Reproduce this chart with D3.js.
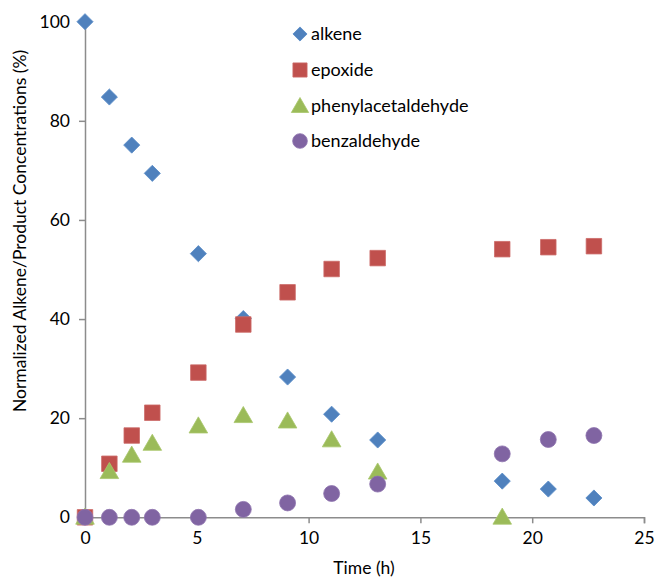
<!DOCTYPE html>
<html><head><meta charset="utf-8">
<script src="https://cdn.jsdelivr.net/npm/d3@7"></script>
<style>body{margin:0;background:#fff}svg{display:block}text{font-family:Lato,"Open Sans",sans-serif;fill:#000}</style>
</head><body><svg id="c" width="655" height="582"></svg>
<script>
const time = [0, 1.09, 2.09, 3.01, 5.07, 7.08, 9.06, 11.03, 13.09, 18.66, 20.72, 22.76];
const alkene = [100, 84.8, 75.1, 69.4, 53.2, 40.1, 28.3, 20.8, 15.6, 7.3, 5.7, 3.9];
const epoxide = [0, 10.8, 16.5, 21.1, 29.2, 38.9, 45.4, 50.1, 52.3, 54.1, 54.5, 54.7];
const phenylacetaldehyde = [0, 9.2, 12.5, 14.9, 18.4, 20.5, 19.4, 15.6, 9.1, 0, null, null];
const benzaldehyde = [0, 0, 0, 0, 0, 1.6, 2.9, 4.8, 6.7, 12.8, 15.7, 16.5];
const xTicks = [0, 5, 10, 15, 20, 25];
const yTicks = [0, 20, 40, 60, 80, 100];
const seriesNames = ["alkene", "epoxide", "phenylacetaldehyde", "benzaldehyde"];
const seriesValues = [alkene, epoxide, phenylacetaldehyde, benzaldehyde];
const colors = ["#4F81BD", "#C0504D", "#9BBB59", "#8064A2"];
const strokes = ["#5A8CC8", "#CB6A67", "#A8C76B", "#8E74AE"];
const symbols = [d3.symbolSquare, d3.symbolSquare, d3.symbolTriangle, d3.symbolCircle];
const rotations = [45, 0, 0, 0];
const sizes = [130, 240, 150, 200];
const legSizes = [100, 200, 130, 170];

const svg = d3.select("#c");
const x = d3.scaleLinear().domain([0, 25]).range([85, 644]);
const y = d3.scaleLinear().domain([0, 100]).range([517.3, 21.7]);
const axisColor = "#8c8c8c";

const xa = svg.append("g").attr("transform", `translate(0,${y(0)})`)
  .call(d3.axisBottom(x).tickValues(xTicks).tickSize(6).tickPadding(8));
const ya = svg.append("g").attr("transform", `translate(${x(0)},0)`)
  .call(d3.axisLeft(y).tickValues(yTicks).tickSize(6).tickPadding(9));
[xa, ya].forEach(a => {
  a.select(".domain").attr("stroke", axisColor).attr("stroke-width", 1.5);
  a.selectAll(".tick line").attr("stroke", axisColor).attr("stroke-width", 1.5);
  a.selectAll(".tick text").attr("font-size", 17.5).attr("fill", "#000").style("font-family", "Lato");
});

seriesValues.forEach((vals, i) => {
  const sym = d3.symbol().type(symbols[i]).size(sizes[i]);
  const pts = time.map((t, j) => ({t, v: vals[j]})).filter(d => d.v !== null);
  svg.append("g").selectAll("path").data(pts).join("path")
    .attr("d", sym)
    .attr("transform", d => {
      const dy = symbols[i] === d3.symbolTriangle ? 1.5 : 0;
      return `translate(${x(d.t)},${y(d.v) + dy}) rotate(${rotations[i]})`;
    })
    .attr("fill", colors[i]).attr("stroke", strokes[i]).attr("stroke-width", 0.8);
});

const legY = [34, 70, 106, 141];
seriesNames.forEach((n, i) => {
  const sym = d3.symbol().type(symbols[i]).size(legSizes[i]);
  const dy = symbols[i] === d3.symbolTriangle ? 1.5 : 0;
  svg.append("path").attr("d", sym).attr("transform", `translate(300,${legY[i] + dy}) rotate(${rotations[i]})`)
    .attr("fill", colors[i]).attr("stroke", strokes[i]).attr("stroke-width", 0.8);
  svg.append("text").attr("x", 311).attr("y", legY[i]).attr("dy", "0.35em")
    .attr("font-size", 18).text(n);
});

svg.append("text").attr("x", 364).attr("y", 574).attr("text-anchor", "middle")
  .attr("font-size", 17.5).text("Time (h)");
svg.append("text").attr("transform", "translate(26,231) rotate(-90)").attr("text-anchor", "middle")
  .attr("font-size", 17.5).text("Normalized Alkene/Product Concentrations (%)");
</script></body></html>
